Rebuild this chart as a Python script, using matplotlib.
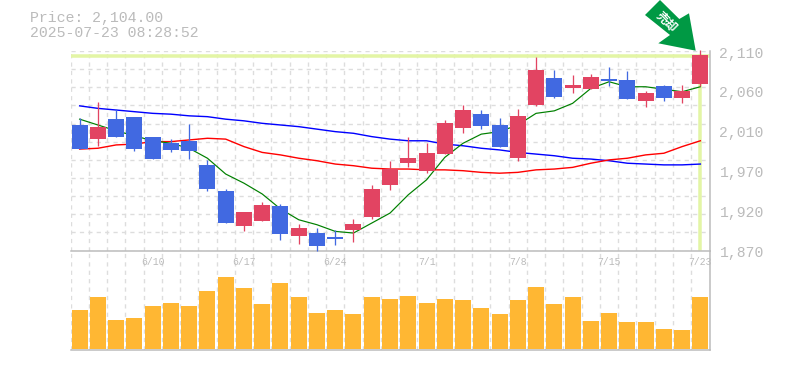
import matplotlib
matplotlib.use('Agg')
import matplotlib.pyplot as plt
from matplotlib.patches import Polygon

W, H = 785, 370

opens = [2021, 2004, 2028, 2031, 2007, 1999, 2002, 1973, 1942, 1899, 1905, 1924, 1887, 1891, 1886, 1895, 1910, 1949,
         1975, 1966, 1986, 2017, 2034, 2021, 1981, 2045, 2077, 2065, 2064, 2076, 2075, 2050, 2068, 2053, 2070]
closes = [1992, 2019, 2007, 1992, 1980, 1991, 1990, 1944, 1903, 1916, 1925, 1890, 1897, 1875, 1884, 1902, 1944, 1968,
          1981, 1987, 2023, 2039, 2020, 1995, 2032, 2087, 2055, 2069, 2079, 2074, 2052, 2060, 2053, 2062, 2105]
highs = [2029, 2049, 2040, 2031, 2007, 2004, 2022, 1979, 1944, 1916, 1928, 1926, 1902, 1897, 1895, 1908, 1949, 1978,
         2007, 1999, 2027, 2045, 2039, 2029, 2040, 2103, 2087, 2081, 2082, 2091, 2086, 2062, 2069, 2069, 2111]
lows = [1992, 1996, 2007, 1990, 1980, 1988, 1980, 1942, 1903, 1893, 1905, 1883, 1878, 1869, 1877, 1880, 1908, 1943,
        1970, 1963, 1986, 2011, 2016, 1995, 1978, 2044, 2053, 2060, 2064, 2068, 2052, 2043, 2050, 2047, 2068]
ma_short = [2028, 2021, 2014, 2008, 2002, 1999, 1993, 1981, 1962, 1951, 1938, 1920, 1907, 1901, 1893, 1891, 1903, 1915,
            1937, 1955, 1982, 1999, 2010, 2013, 2021, 2035, 2038, 2047, 2065, 2073, 2067, 2067, 2064, 2061, 2067]
ma_mid = [1992, 1993, 1997, 1998, 2001, 2001, 2003, 2005, 2004, 1995, 1988, 1985, 1981, 1978, 1974, 1972, 1969, 1968,
          1968, 1967, 1967, 1966, 1964, 1963, 1964, 1967, 1968, 1970, 1975, 1979, 1981, 1985, 1987, 1995, 2002]
ma_long = [2044, 2041, 2039, 2037, 2035, 2034, 2032, 2031, 2028, 2026, 2023, 2021, 2019, 2016, 2013, 2011, 2007, 2004,
           2002, 2002, 1998, 1996, 1993, 1991, 1988, 1986, 1984, 1981, 1980, 1978, 1975, 1974, 1973, 1973, 1974]
volumes = [38.5, 51.5, 28.5, 30.5, 42.5, 45.5, 42.5, 57.5, 71.5, 60.5, 44.5, 65.5, 51.5, 35.5, 38.5, 34.5, 51.5, 49.5,
           52.5, 45.5, 49.5, 48.5, 40.5, 34.5, 48.5, 61.5, 44.5, 51.5, 27.5, 35.5, 26.5, 26.5, 19.5, 18.5, 51.5]

date_pos = [4, 9, 14, 19, 24, 29, 34]
date_labels = ['6/10', '6/17', '6/24', '7/1', '7/8', '7/15', '7/23']
price_pos = [2110, 2062, 2014, 1966, 1918, 1870]
price_labels = ['2,110', '2,060', '2,010', '1,970', '1,920', '1,870']
last_price = 2104

BLUE = '#4169e1'
RED = '#e24462'
GREY = '#bbbbbb'
GRID = '#dddddd'
HILITE = '#e3f5a5'
PX = 0.72
MONO = 'Liberation Mono'


def make_axes(fig, left, top, right, bottom):
    return fig.add_axes([left / W, 1 - bottom / H, (right - left) / W, (bottom - top) / H])


def style_axes(ax):
    ax.set_xlim(-0.5, 34.5)
    ax.set_xticks([i - 0.5 for i in range(36)])
    ax.tick_params(length=0, labelbottom=False, labelleft=False)
    ax.grid(axis='x', color=GRID, linestyle=(0, (3, 3)), linewidth=1.4 * PX, zorder=0)
    ax.set_axisbelow(True)
    for side in ['left', 'top']:
        ax.spines[side].set_visible(False)
    for side in ['right', 'bottom']:
        ax.spines[side].set_color(GREY)
        ax.spines[side].set_linewidth(1.5 * PX)


def draw_price(ax):
    style_axes(ax)
    ax.set_ylim(1870, 2110)
    ax.set_yticks([1870 + 240 / 11 * k for k in range(12)])
    ax.grid(axis='y', color=GRID, linestyle=(0, (3, 3)), linewidth=1.4 * PX, zorder=0)

    x = list(range(len(opens)))
    ax.axhline(last_price, color=HILITE, linewidth=3.5 * PX, zorder=1)
    ax.plot([x[-1], x[-1]], [1872, last_price], color=HILITE, linewidth=3.5 * PX, zorder=1)
    ax.plot(x, ma_long, color='#0000ff', linewidth=1.4 * PX, zorder=2)
    ax.plot(x, ma_mid, color='#ff0000', linewidth=1.4 * PX, zorder=2)
    ax.plot(x, ma_short, color='#008000', linewidth=1.2 * PX, zorder=2)

    for i in x:
        color = RED if closes[i] >= opens[i] else BLUE
        ax.plot([i, i], [lows[i], highs[i]], color=color, linewidth=1.3 * PX, zorder=3, clip_on=False,
                solid_capstyle='butt')
        ax.bar(i, abs(closes[i] - opens[i]), bottom=min(opens[i], closes[i]), width=0.877, color=color, zorder=4)

    for v, lab in zip(price_pos, price_labels):
        ax.annotate(lab, (1, v), xycoords=('axes fraction', 'data'), xytext=(10, -2.5), textcoords='offset pixels',
                    va='center', ha='left', color=GREY, family=MONO, fontsize=10.6, annotation_clip=False)


def draw_volume(ax):
    style_axes(ax)
    ax.set_ylim(0, 99)
    ax.set_yticks([])
    ax.bar(range(len(volumes)), volumes, bottom=1, width=0.877, color='#ffb733', zorder=3)
    for p, lab in zip(date_pos, date_labels):
        ax.annotate(lab, (p, 1), xycoords=('data', 'axes fraction'), xytext=(0, -11.5), textcoords='offset pixels',
                    va='center', ha='center', color=GREY, family=MONO, fontsize=7, annotation_clip=False)


def draw_arrow(fig):
    pts = [(660, 0), (645, 15), (670, 35), (658.3, 43.3), (695.7, 50.7), (689, 13.3), (679.3, 19)]
    fig.patches.append(Polygon([(a / W, 1 - b / H) for a, b in pts], closed=True, transform=fig.transFigure,
                               facecolor='#009944', edgecolor='none', zorder=5))
    fig.text(666.5 / W, 1 - 22 / H, '売却', color='white', rotation=-45, ha='center', va='center', fontsize=8.5,
             fontweight='bold', family=['Noto Sans CJK JP', 'DejaVu Sans'], rotation_mode='anchor', zorder=6)


def main():
    fig = plt.figure(figsize=(W / 100, H / 100), dpi=100)
    ax_vol = make_axes(fig, 70.5, 250.5, 709.5, 350)
    ax_price = make_axes(fig, 70.5, 51, 709.5, 250.5)
    draw_volume(ax_vol)
    draw_price(ax_price)
    draw_arrow(fig)

    fig.text(30 / W, 1 - 18 / H, 'Price: 2,104.00', color=GREY, family=MONO, fontsize=10.7, va='center')
    fig.text(30 / W, 1 - 33 / H, '2025-07-23 08:28:52', color=GREY, family=MONO, fontsize=10.7, va='center')
    fig.savefig('out.png', dpi=100)


if __name__ == "__main__":
    main()
